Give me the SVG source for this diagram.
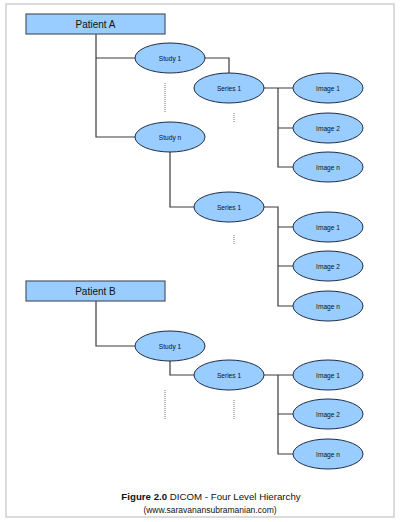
<svg xmlns="http://www.w3.org/2000/svg" width="400" height="522" viewBox="0 0 400 522">
<style>
.frame{fill:#fff;stroke:#cfcfcf;stroke-width:1.5}
.box{fill:#99ccff;stroke:#4d5866;stroke-width:1.2}
.ell{fill:#99ccff;stroke:#1c2c48;stroke-width:1}
.ln{fill:none;stroke:#3a3a3a;stroke-width:1.2}
.dot{fill:none;stroke:#8a8a8a;stroke-width:1.2;stroke-dasharray:1 1}
.pt{font-family:"Liberation Sans",Arial,sans-serif;font-size:10px;fill:#111;text-anchor:middle}
.nt{font-family:"Liberation Sans",Arial,sans-serif;font-size:6.6px;fill:#111;text-anchor:middle}
.cap{font-family:"Liberation Sans",Arial,sans-serif;font-size:9.7px;fill:#111;text-anchor:middle}
.url{font-family:"Liberation Sans",Arial,sans-serif;font-size:8.5px;fill:#111;text-anchor:middle}
</style>
<rect class="frame" x="6" y="4" width="388" height="513"/>
<g id="connectors">
<!-- Patient A -->
<path class="ln" d="M96 34V137H135M96 58H135"/>
<path class="ln" d="M205 58H229V73"/>
<path class="ln" d="M264 88H293M278 88V167H293M278 128H293"/>
<path class="ln" d="M170 152V207H194"/>
<path class="ln" d="M264 207H278V306H293M278 227H293M278 266H293"/>
<!-- Patient B -->
<path class="ln" d="M96 301V346H135"/>
<path class="ln" d="M170 361V375H194"/>
<path class="ln" d="M264 375H293M278 375V454H293M278 414H293"/>
<!-- dotted -->
<path class="dot" d="M165 83V113"/>
<path class="dot" d="M234 113V123"/>
<path class="dot" d="M234 235V245"/>
<path class="dot" d="M165 390V419"/>
<path class="dot" d="M234 400V419"/>
</g>
<g id="patientA"><rect class="box" x="26" y="14" width="139" height="20"/><text class="pt" x="95.5" y="27.5">Patient A</text></g>
<g id="studyA1"><ellipse class="ell" cx="170" cy="58" rx="35" ry="15"/><text class="nt" x="170" y="60.5">Study 1</text></g>
<g id="studyAn"><ellipse class="ell" cx="170" cy="137" rx="35" ry="15"/><text class="nt" x="170" y="139.5">Study n</text></g>
<g id="seriesA1"><ellipse class="ell" cx="229" cy="88" rx="35" ry="15"/><text class="nt" x="229" y="90.5">Series 1</text></g>
<g id="imageA1"><ellipse class="ell" cx="328" cy="88" rx="35" ry="15"/><text class="nt" x="328" y="90.5">Image 1</text></g>
<g id="imageA2"><ellipse class="ell" cx="328" cy="128" rx="35" ry="15"/><text class="nt" x="328" y="130.5">Image 2</text></g>
<g id="imageAn"><ellipse class="ell" cx="328" cy="167" rx="35" ry="15"/><text class="nt" x="328" y="169.5">Image n</text></g>
<g id="seriesAn1"><ellipse class="ell" cx="229" cy="207" rx="35" ry="15"/><text class="nt" x="229" y="209.5">Series 1</text></g>
<g id="imageAn1"><ellipse class="ell" cx="328" cy="227" rx="35" ry="15"/><text class="nt" x="328" y="229.5">Image 1</text></g>
<g id="imageAn2"><ellipse class="ell" cx="328" cy="266" rx="35" ry="15"/><text class="nt" x="328" y="268.5">Image 2</text></g>
<g id="imageAnn"><ellipse class="ell" cx="328" cy="306" rx="35" ry="15"/><text class="nt" x="328" y="308.5">Image n</text></g>
<g id="patientB"><rect class="box" x="26" y="281" width="139" height="20"/><text class="pt" x="95.5" y="294.5">Patient B</text></g>
<g id="studyB1"><ellipse class="ell" cx="170" cy="346" rx="35" ry="15"/><text class="nt" x="170" y="348.5">Study 1</text></g>
<g id="seriesB1"><ellipse class="ell" cx="229" cy="375" rx="35" ry="15"/><text class="nt" x="229" y="377.5">Series 1</text></g>
<g id="imageB1"><ellipse class="ell" cx="328" cy="375" rx="35" ry="15"/><text class="nt" x="328" y="377.5">Image 1</text></g>
<g id="imageB2"><ellipse class="ell" cx="328" cy="414" rx="35" ry="15"/><text class="nt" x="328" y="416.5">Image 2</text></g>
<g id="imageBn"><ellipse class="ell" cx="328" cy="454" rx="35" ry="15"/><text class="nt" x="328" y="456.5">Image n</text></g>
<g id="caption">
<text class="cap" x="211" y="500"><tspan font-weight="bold">Figure 2.0</tspan> DICOM - Four Level Hierarchy</text>
<text class="url" x="210" y="513">(www.saravanansubramanian.com)</text>
</g>
</svg>
